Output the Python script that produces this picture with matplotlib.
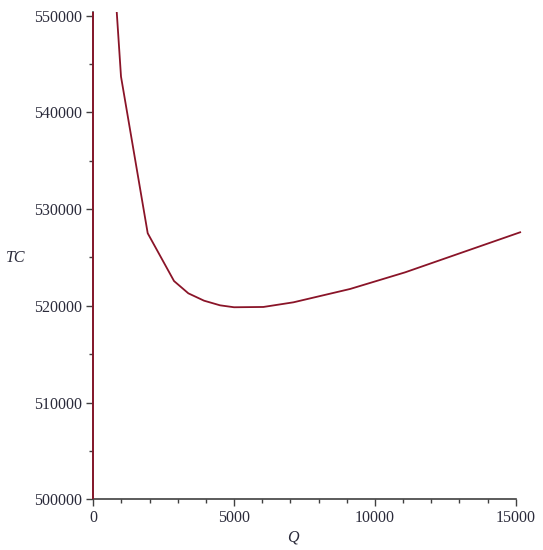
import matplotlib
matplotlib.use("Agg")
import matplotlib.pyplot as plt
from matplotlib.ticker import MultipleLocator, FixedLocator
from matplotlib.patches import Rectangle

# Data (order quantity Q vs total cost TC)
q_values = [500, 984, 1932, 2867, 3375, 3932, 4501, 4998, 6039, 7105, 9119, 11073, 15158]
tc_values = [565000, 543690, 527500, 522560, 521290, 520530, 520050, 519850,
             519880, 520360, 521740, 523460, 527600]
x_ticks = [0, 5000, 10000, 15000]
y_ticks = [500000, 510000, 520000, 530000, 540000, 550000]

curve_color = "#8A1428"
axis_color = "#404040"

fig = plt.figure(figsize=(5.43, 5.50), dpi=100)
ax = fig.add_axes([93.3 / 543, 1 - 499.3 / 550, (515.7 - 93.3) / 543, (499.3 - 11.7) / 550])

ax.set_xlim(0, 15000)
ax.set_ylim(500000, 550400)

# clip region slightly wider than the axes so the curve may pass the x-axis end
clip_rect = Rectangle((-0.02, 0), 1.05, 1.0, transform=ax.transAxes,
                      facecolor="none", edgecolor="none")
ax.add_patch(clip_rect)

line, = ax.plot(q_values, tc_values, color=curve_color, lw=1.3, zorder=3)
line.set_clip_path(clip_rect)

# segment at Q = 0 drawn by the original plot along the vertical axis
vline = ax.axvline(0, color=curve_color, lw=1.3, zorder=4)
vline.set_clip_path(clip_rect)

for side in ["top", "right"]:
    ax.spines[side].set_visible(False)
for side in ["left", "bottom"]:
    ax.spines[side].set_color(axis_color)
    ax.spines[side].set_linewidth(1.2)
ax.spines["left"].set_zorder(2)

ax.xaxis.set_major_locator(FixedLocator(x_ticks))
ax.yaxis.set_major_locator(FixedLocator(y_ticks))
ax.xaxis.set_minor_locator(MultipleLocator(1000))
ax.yaxis.set_minor_locator(MultipleLocator(5000))
ax.set_xticklabels([str(v) for v in x_ticks])
ax.set_yticklabels([str(v) for v in y_ticks])

ax.tick_params(which="major", direction="out", length=5, width=1.0, color=axis_color,
               labelsize=11.5, labelcolor="#2a2a3a", pad=3)
ax.tick_params(which="minor", direction="out", length=3, width=1.0, color=axis_color)
for lab in ax.get_xticklabels() + ax.get_yticklabels():
    lab.set_fontfamily("Liberation Serif")

fig.text(16 / 543, 1 - 258 / 550, "TC", fontfamily="Liberation Serif", fontstyle="italic",
         fontsize=11.5, ha="center", va="center", color="#2a2a3a")
fig.text(293 / 543, 1 - 537 / 550, "Q", fontfamily="Liberation Serif", fontstyle="italic",
         fontsize=11.5, ha="center", va="center", color="#2a2a3a")

fig.savefig("out.png", dpi=100, facecolor="white")
